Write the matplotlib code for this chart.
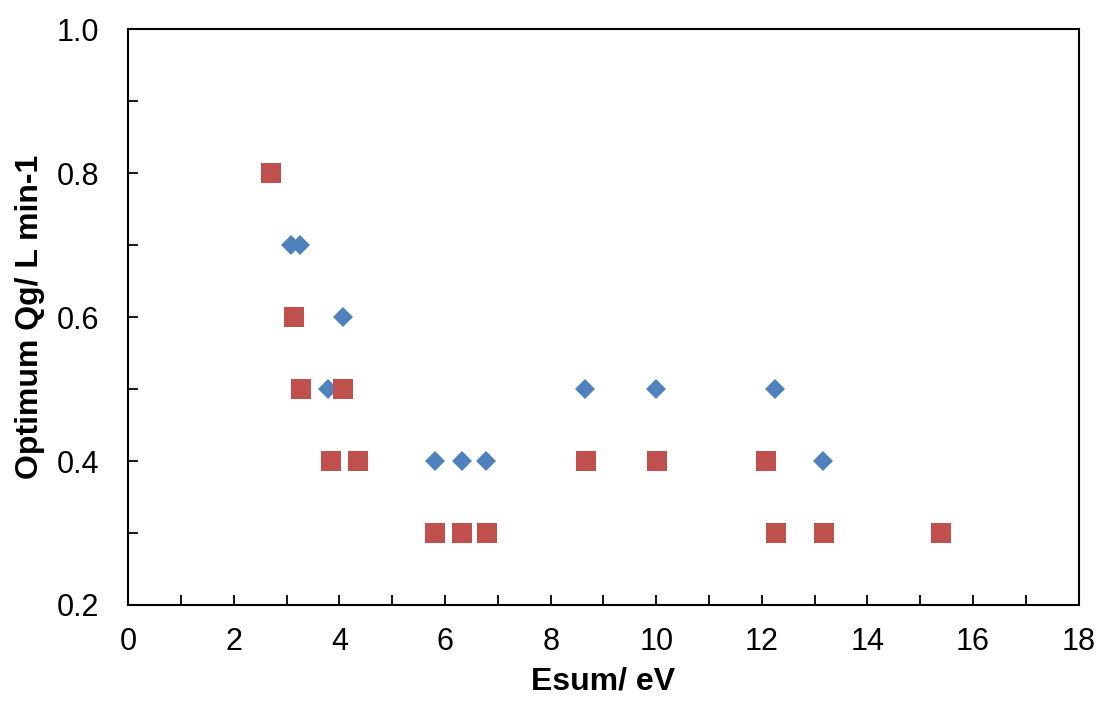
import matplotlib.pyplot as plt
from matplotlib.ticker import MultipleLocator

plt.rcParams['font.family'] = ['Liberation Sans', 'DejaVu Sans']

# 蓝色菱形系列
blue_x = [3.09, 3.26, 4.06, 3.78, 5.81, 6.33, 6.77, 8.65, 9.99, 12.25, 13.16]
blue_y = [0.7, 0.7, 0.6, 0.5, 0.4, 0.4, 0.4, 0.5, 0.5, 0.5, 0.4]

# 红色方块系列
red_x = [2.70, 3.13, 3.27, 4.07, 3.84, 4.36, 5.81, 6.33, 6.79,
         8.66, 10.01, 12.07, 12.26, 13.18, 15.39]
red_y = [0.8, 0.6, 0.5, 0.5, 0.4, 0.4, 0.3, 0.3, 0.3,
         0.4, 0.4, 0.4, 0.3, 0.3, 0.3]

fig = plt.figure(figsize=(11.01, 7.07), dpi=100)
ax = fig.add_axes([0.1165, 0.1443, 0.8632, 0.8143])

ax.plot(blue_x, blue_y, 'D', color='#4F81BD', markersize=10, markeredgewidth=0)
ax.plot(red_x, red_y, 's', color='#C0504D', markersize=13.7, markeredgewidth=0)

ax.set_xlim(0, 18)
ax.set_ylim(0.2, 1.0)
ax.xaxis.set_major_locator(MultipleLocator(2))
ax.xaxis.set_minor_locator(MultipleLocator(1))
ax.yaxis.set_major_locator(MultipleLocator(0.2))
ax.yaxis.set_minor_locator(MultipleLocator(0.1))
ax.yaxis.set_major_formatter(plt.FormatStrFormatter('%.1f'))

ax.tick_params(axis='both', which='both', direction='in', length=7, width=1.3,
               top=False, right=False)
ax.tick_params(axis='x', which='major', labelsize=22, pad=16)
ax.tick_params(axis='y', which='major', labelsize=22, pad=21)
for s in ax.spines.values():
    s.set_linewidth(1.5)

ax.set_xlabel('Esum/ eV', fontsize=23, fontweight='bold', labelpad=7)
ax.set_ylabel('Optimum Qg/ L min-1', fontsize=23, fontweight='bold', labelpad=8)

fig.savefig('out.png', dpi=100)
